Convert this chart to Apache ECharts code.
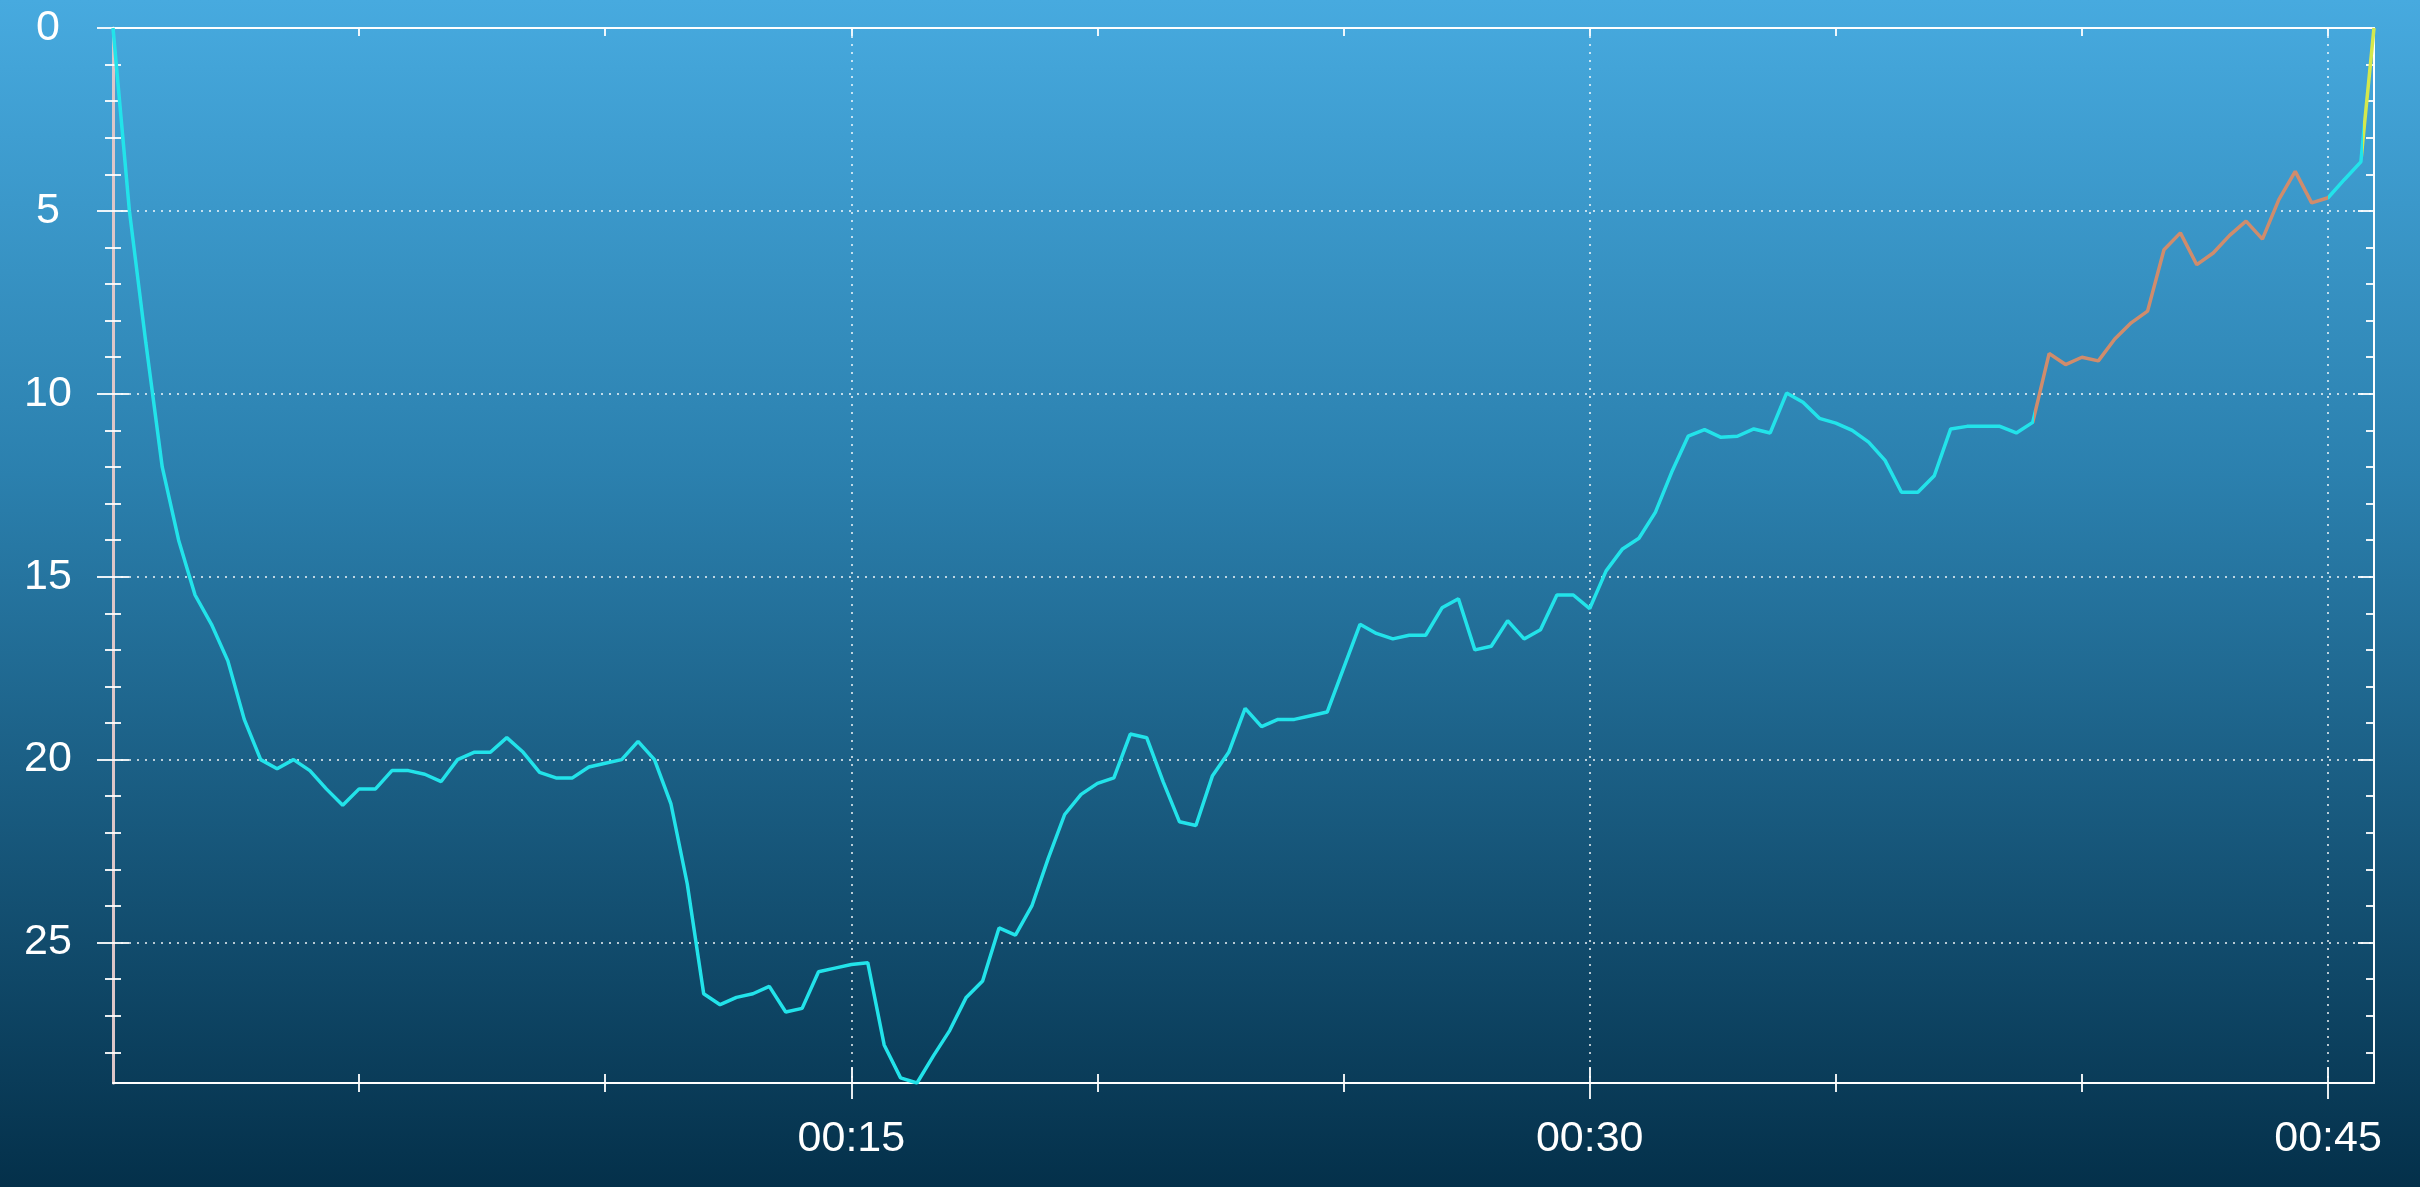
<!DOCTYPE html>
<html>
<head>
<meta charset="utf-8">
<script src="https://cdn.jsdelivr.net/npm/echarts@6/dist/echarts.min.js"></script>
<style>
  html, body { margin: 0; padding: 0; width: 2420px; height: 1187px; overflow: hidden;
    background: linear-gradient(to bottom, #47aadf 0%, #2b80ae 40%, #04304a 100%); }
  #chart { width: 2420px; height: 1187px; }
</style>
</head>
<body>
<div id="chart"></div>
<script>
// Dive profile: elapsed time (seconds) and depth (m)
const timeSec = [
  0, 20, 40, 60, 80, 100, 120, 140, 160, 180,
  200, 220, 240, 260, 280, 300, 320, 340, 360, 380,
  400, 420, 440, 460, 480, 500, 520, 540, 560, 580,
  600, 620, 640, 660, 680, 700, 720, 740, 760, 780,
  800, 820, 840, 860, 880, 900, 920, 940, 960, 980,
  1000, 1020, 1040, 1060, 1080, 1100, 1120, 1140, 1160, 1180,
  1200, 1220, 1240, 1260, 1280, 1300, 1320, 1340, 1360, 1380,
  1400, 1420, 1440, 1460, 1480, 1500, 1520, 1540, 1560, 1580,
  1600, 1620, 1640, 1660, 1680, 1700, 1720, 1740, 1760, 1780,
  1800, 1820, 1840, 1860, 1880, 1900, 1920, 1940, 1960, 1980,
  2000, 2020, 2040, 2060, 2080, 2100, 2120, 2140, 2160, 2180,
  2200, 2220, 2240, 2260, 2280, 2300, 2320, 2340, 2360, 2380,
  2400, 2420, 2440, 2460, 2480, 2500, 2520, 2540, 2560, 2580,
  2600, 2620, 2640, 2660, 2680, 2700, 2720, 2740, 2743, 2756
];
const depthM = [
  0, 5.0, 8.6, 12.0, 14.0, 15.5, 16.3, 17.3, 18.9, 20.0,
  20.25, 20.0, 20.3, 20.8, 21.25, 20.8, 20.8, 20.3, 20.3, 20.4,
  20.6, 20.0, 19.8, 19.8, 19.4, 19.8, 20.35, 20.5, 20.5, 20.2,
  20.1, 20.0, 19.5, 20.0, 21.2, 23.4, 26.4, 26.7, 26.5, 26.4,
  26.2, 26.9, 26.8, 25.8, 25.7, 25.6, 25.55, 27.8, 28.7, 28.84,
  28.1, 27.4, 26.5, 26.05, 24.6, 24.8, 24.0, 22.7, 21.5, 20.95,
  20.65, 20.5, 19.3, 19.4, 20.6, 21.7, 21.8, 20.45, 19.8, 18.6,
  19.1, 18.9, 18.9, 18.8, 18.7, 17.5, 16.3, 16.55, 16.7, 16.6,
  16.6, 15.85, 15.6, 17.0, 16.9, 16.2, 16.7, 16.45, 15.5, 15.5,
  15.87, 14.84, 14.24, 13.95, 13.24, 12.14, 11.16, 10.98, 11.19, 11.16,
  10.96, 11.07, 9.98, 10.23, 10.67, 10.8, 11.0, 11.32, 11.82, 12.69,
  12.69, 12.24, 10.96, 10.89, 10.89, 10.89, 11.07, 10.78, 8.9, 9.2,
  9.0, 9.1, 8.5, 8.06, 7.74, 6.06, 5.6, 6.47, 6.15, 5.67,
  5.28, 5.77, 4.69, 3.92, 4.78, 4.64, 4.14, 3.66, 2.95, 0
];
// Ascent-rate colour bands (time thresholds in seconds)
const warnStart = 2342;   // moderate ascent rate begins
const warnEnd = 2700;     // back to normal
const fastStart = 2743;   // fast final ascent
const colNormal = '#22e3ea';
const colWarn = '#cf8c6c';
const colFast = '#d4e84c';

const diveEnd = 2756;
const maxDepth = 28.84;
const majorTimeTicks = [900, 1800, 2700];
const minorTimeTicks = [300, 600, 1200, 1500, 2100, 2400];
const allTimeTicks = [300, 600, 900, 1200, 1500, 1800, 2100, 2400, 2700];
const majorDepthTicks = [0, 5, 10, 15, 20, 25];
const minorDepthTicks = [1, 2, 3, 4, 6, 7, 8, 9, 11, 12, 13, 14, 16, 17, 18, 19, 21, 22, 23, 24, 26, 27, 28];

function fmtTime(v) {
  const m = Math.round(v / 60);
  const h = Math.floor(m / 60);
  const mm = m % 60;
  return String(h).padStart(2, '0') + ':' + String(mm).padStart(2, '0');
}

const gridLine = { show: true, lineStyle: { color: 'rgba(255,255,255,0.7)', width: 2, type: [2, 6] } };
const tickStyle = { color: 'rgba(255,255,255,0.9)', width: 2 };
const labelFont = 'Liberation Sans, Arial, sans-serif';

function xAx(extra) {
  const base = {
    type: 'value', min: 0, max: diveEnd, interval: 900, position: 'bottom',
    axisLine: { show: false, onZero: false }, axisLabel: { show: false }, splitLine: { show: false },
    axisTick: { show: false }
  };
  const out = Object.assign(base, extra);
  out.axisLine = Object.assign({ onZero: false }, out.axisLine);
  return out;
}
function yAx(extra) {
  const base = {
    type: 'value', min: 0, max: maxDepth, interval: 5, inverse: true, position: 'left',
    axisLine: { show: false, onZero: false }, axisLabel: { show: false }, splitLine: { show: false },
    axisTick: { show: false }
  };
  const out = Object.assign(base, extra);
  out.axisLine = Object.assign({ onZero: false }, out.axisLine);
  return out;
}

const chart = echarts.init(document.getElementById('chart'), null, { renderer: 'canvas' });
chart.setOption({
  animation: false,
  backgroundColor: 'transparent',
  grid: { left: 113, right: 46, top: 28, bottom: 104, outerBoundsMode: 'none', containLabel: false },
  visualMap: {
    show: false, type: 'piecewise', dimension: 0, seriesIndex: 0,
    pieces: [
      { lt: warnStart, color: colNormal },
      { gte: warnStart, lte: warnEnd, color: colWarn },
      { gt: warnEnd, lte: fastStart, color: colNormal },
      { gt: fastStart, color: colFast }
    ]
  },
  xAxis: [
    xAx({
      axisLine: { show: true, onZero: false, lineStyle: { color: '#ffffff', width: 2 } },
      axisTick: { show: true, inside: false, length: 16, customValues: majorTimeTicks, lineStyle: tickStyle },
      axisLabel: { show: true, customValues: majorTimeTicks, formatter: fmtTime, color: '#ffffff',
        fontSize: 43, fontFamily: labelFont, margin: 35 },
      splitLine: gridLine
    }),
    xAx({ axisTick: { show: true, inside: true, length: 16, customValues: majorTimeTicks, lineStyle: tickStyle } }),
    xAx({ axisTick: { show: true, inside: false, length: 9, customValues: minorTimeTicks, lineStyle: tickStyle } }),
    xAx({ axisTick: { show: true, inside: true, length: 9, customValues: minorTimeTicks, lineStyle: tickStyle } }),
    xAx({ position: 'top',
      axisLine: { show: true, onZero: false, lineStyle: { color: '#ffffff', width: 2 } },
      axisTick: { show: true, inside: true, length: 8, customValues: allTimeTicks, lineStyle: tickStyle } })
  ],
  yAxis: [
    yAx({
      axisLine: { show: true, onZero: false, lineStyle: { color: '#dcc6c8', width: 3 } },
      axisTick: { show: true, inside: false, length: 16, customValues: majorDepthTicks, lineStyle: tickStyle },
      axisLabel: { show: true, customValues: majorDepthTicks, color: '#ffffff', align: 'center',
        fontSize: 43, fontFamily: labelFont, margin: 65 },
      splitLine: gridLine
    }),
    yAx({ axisTick: { show: true, inside: true, length: 16, customValues: majorDepthTicks, lineStyle: tickStyle } }),
    yAx({ axisTick: { show: true, inside: false, length: 8, customValues: minorDepthTicks, lineStyle: tickStyle } }),
    yAx({ axisTick: { show: true, inside: true, length: 8, customValues: minorDepthTicks, lineStyle: tickStyle } }),
    yAx({ position: 'right',
      axisLine: { show: true, onZero: false, lineStyle: { color: '#ffffff', width: 2 } },
      axisTick: { show: true, inside: true, length: 16, customValues: majorDepthTicks, lineStyle: tickStyle } }),
    yAx({ position: 'right',
      axisTick: { show: true, inside: true, length: 8, customValues: minorDepthTicks, lineStyle: tickStyle } })
  ],
  series: [{
    type: 'line',
    xAxisIndex: 0, yAxisIndex: 0,
    data: timeSec.map((t, i) => [t, depthM[i]]),
    showSymbol: false,
    symbol: 'none',
    smooth: false,
    lineStyle: { width: 3.5 },
    z: 10
  }]
});
</script>
</body>
</html>
